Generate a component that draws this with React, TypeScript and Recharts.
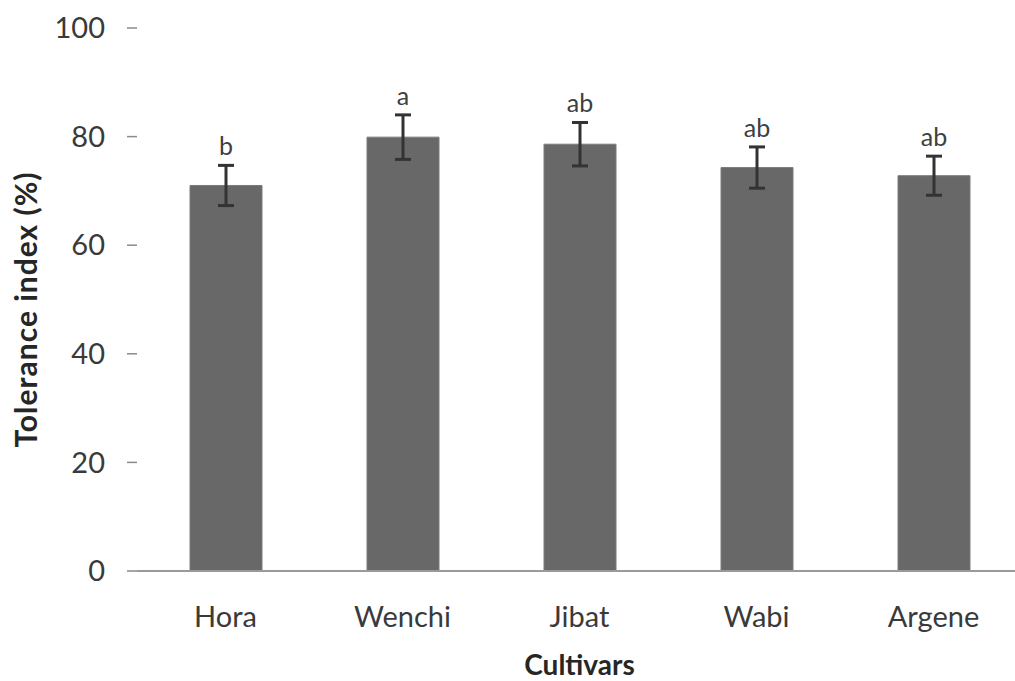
import React from 'react';
import { BarChart, Bar, XAxis, YAxis, ErrorBar, LabelList } from 'recharts';

const CULTIVARS = ['Hora', 'Wenchi', 'Jibat', 'Wabi', 'Argene'];
const TOLERANCE = [71.0, 79.9, 78.6, 74.3, 72.8];
const STD_ERR = [3.7, 4.1, 4.0, 3.8, 3.6];
const GROUPS = ['b', 'a', 'ab', 'ab', 'ab'];
const Y_TICKS = [0, 20, 40, 60, 80, 100];

const data = CULTIVARS.map((name, i) => ({
  name,
  value: TOLERANCE[i],
  err: STD_ERR[i],
  group: GROUPS[i],
}));

const FONT = 'Lato, Carlito, Calibri, "Open Sans", sans-serif';

// significance letter sits just above the error bar cap
const GroupLabel = (props: any) => {
  const { x, y, width, height, index } = props;
  const row = data[index];
  const pxPerUnit = height / row.value;
  const capY = y - row.err * pxPerUnit;
  return (
    <text
      x={x + width / 2}
      y={capY - 10}
      textAnchor="middle"
      fontFamily={FONT}
      fontSize={25}
      fill="#404040"
    >
      {row.group}
    </text>
  );
};

const App: React.FC = () => {
  return (
    <div
      style={{
        position: 'absolute',
        top: 0,
        left: 0,
        width: 1015,
        height: 681,
        overflow: 'hidden',
        background: '#fff',
      }}
    >
      <BarChart
        width={1022}
        height={681}
        data={data}
        margin={{ top: 28, right: 0, bottom: 0, left: 0 }}
      >
        <XAxis
          dataKey="name"
          height={110}
          axisLine={{ stroke: '#9a9a9a', strokeWidth: 2 }}
          tickLine={false}
          tickSize={0}
          tickMargin={35}
          tick={{ fontFamily: FONT, fontSize: 29, fill: '#3a3a3a' }}
          label={{
            value: 'Cultivars',
            position: 'insideBottom',
            offset: 6,
            style: { fontFamily: FONT, fontSize: 28, fontWeight: 700, fill: '#262626' },
          }}
        />
        <YAxis
          width={137}
          domain={[0, 100]}
          ticks={Y_TICKS}
          axisLine={false}
          tickSize={10}
          tickMargin={22}
          tickLine={{ stroke: '#8a8a8a', strokeWidth: 1.5 }}
          tick={{ fontFamily: FONT, fontSize: 29, fill: '#3a3a3a' }}
          label={{
            value: 'Tolerance index (%)',
            angle: -90,
            position: 'center',
            dx: -42,
            dy: 10,
            style: { fontFamily: FONT, fontSize: 30, fontWeight: 700, fill: '#262626', letterSpacing: 1 },
          }}
        />
        <Bar dataKey="value" fill="#686868" stroke="#7a7a7a" strokeWidth={1} barSize={72} isAnimationActive={false}>
          <ErrorBar dataKey="err" width={8} strokeWidth={3} stroke="#333333" direction="y" />
          <LabelList dataKey="group" content={GroupLabel} />
        </Bar>
      </BarChart>
    </div>
  );
};

export default App;
